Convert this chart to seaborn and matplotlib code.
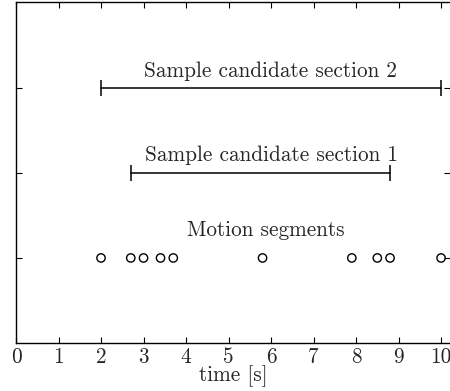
import matplotlib
matplotlib.use("Agg")
import matplotlib.pyplot as plt
import seaborn as sns
import pandas as pd

# data
motion_times = [2.0, 2.7, 3.0, 3.4, 3.7, 5.8, 7.9, 8.5, 8.8, 10.0]
section1 = [2.7, 8.8]
section2 = [2.0, 10.0]
row_labels = ["Motion segments", "Sample candidate section 1", "Sample candidate section 2"]
x_ticks = [0, 1, 2, 3, 4, 5, 6, 7, 8, 9, 10]

sns.set_theme(style="ticks")
plt.rcParams['font.family'] = ['serif']
plt.rcParams['font.serif'] = ['cmr10', 'DejaVu Serif']
plt.rcParams['axes.formatter.use_mathtext'] = True

FS = 15.3

fig = plt.figure(figsize=(4.5, 3.91), dpi=100)
ax = fig.add_axes([16/450, 1 - 343/391, 1 - 16/450, (343 - 2)/391])

df_m = pd.DataFrame({"t": motion_times, "y": [1] * len(motion_times)})
sns.scatterplot(data=df_m, x="t", y="y", ax=ax, marker="o", s=36,
                facecolor="none", edgecolor="black", linewidth=1.0, zorder=3)

for lvl, sec in [(2, section1), (3, section2)]:
    d = pd.DataFrame({"t": sec, "y": [lvl, lvl]})
    sns.lineplot(data=d, x="t", y="y", ax=ax, color="black", linewidth=1.1,
                 marker="|", markersize=12, markeredgewidth=1.1,
                 markeredgecolor="black", legend=False)

ax.text(5.88, 1.33, row_labels[0], ha="center", va="center", fontsize=FS)
ax.text(6.0, 2.21, row_labels[1], ha="center", va="center", fontsize=FS)
ax.text(5.98, 3.2, row_labels[2], ha="center", va="center", fontsize=FS)

ax.set_xlim(0, 10.21)
ax.set_ylim(0, 4.01)
ax.set_xticks(x_ticks)
ax.set_xticklabels([str(v) for v in x_ticks], fontsize=FS)
ax.set_yticks([1, 2, 3])
ax.set_yticklabels([])
ax.tick_params(direction="in", length=4, width=0.8, top=True, right=True, color="black", pad=3)
ax.set_xlabel("time [s]", fontsize=FS, labelpad=-1)
ax.set_ylabel("")
for s in ["left", "bottom", "top"]:
    ax.spines[s].set_visible(True)
    ax.spines[s].set_color("black")
    ax.spines[s].set_linewidth(1.0)
ax.spines["right"].set_visible(False)

fig.savefig("out.png", dpi=100)
